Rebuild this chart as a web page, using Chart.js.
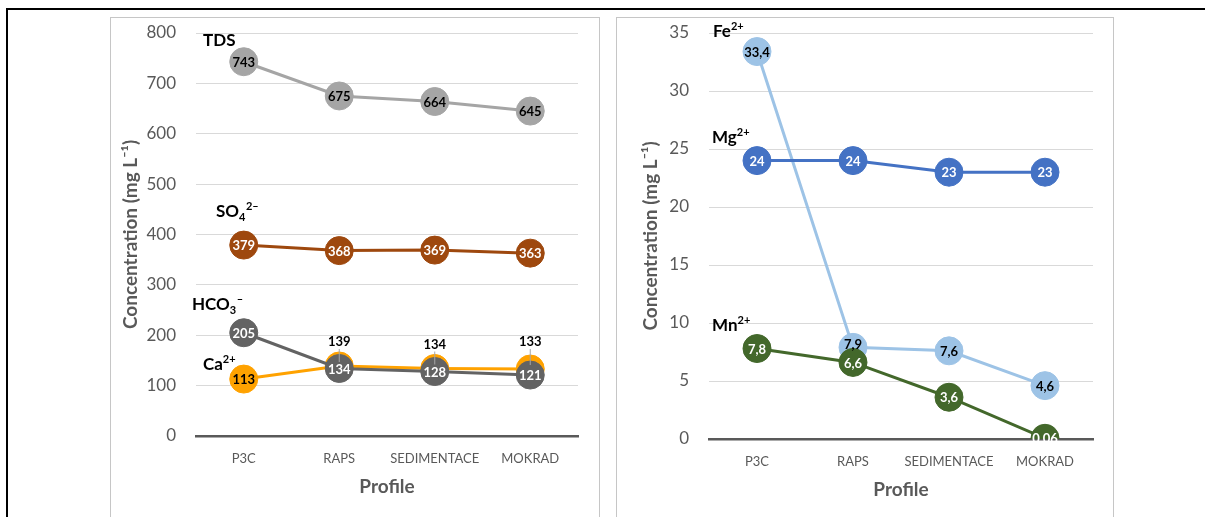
<!DOCTYPE html>
<html>
<head>
<meta charset="utf-8">
<script src="https://cdn.jsdelivr.net/npm/chart.js@4.4.1/dist/chart.umd.min.js"></script>
<style>
  body { margin:0; background:#fff; width:1205px; height:517px; overflow:hidden; position:relative; }
  .lineTop { position:absolute; left:6px; top:8px; width:1199px; height:2px; background:#000; }
  .lineLeft { position:absolute; left:6px; top:8px; width:2px; height:509px; background:#000; }
  .panel { position:absolute; top:17px; height:510px; border:1px solid #c6c6c6; border-bottom:none; }
  #p1 { left:110px; width:488px; }
  #p2 { left:616px; width:496px; }
  canvas { position:absolute; left:0; top:0; }
</style>
</head>
<body>
<div class="lineTop"></div>
<div class="lineLeft"></div>
<div class="panel" id="p1"><canvas id="levy" width="488" height="499"></canvas></div>
<div class="panel" id="p2"><canvas id="pravy" width="496" height="499"></canvas></div>
<script>
// profily (kategorie)
const profily = ['P3C', 'RAPS', 'SEDIMENTACE', 'MOKRAD'];

// levy graf - hlavni ionty (mg/L)
const tds = [743, 675, 664, 645];
const so4 = [379, 368, 369, 363];
const hco3 = [205, 134, 128, 121];
const ca = [113, 139, 134, 133];

// pravy graf - kovy (mg/L)
const fe = [33.4, 7.9, 7.6, 4.6];
const mg = [24, 24, 23, 23];
const mn = [7.8, 6.6, 3.6, 0.06];

const ticksLevy = { min: 0, max: 800, step: 100 };
const ticksPravy = { min: 0, max: 35, step: 5 };

const FONT = 'Lato, "Open Sans", sans-serif';
Chart.defaults.font.family = FONT;

// popisky hodnot a nazvy serii
const popisky = {
    id: 'popisky',
    afterDatasetsDraw(chart) {
        const ctx = chart.ctx;
        const area = chart.chartArea;
        ctx.save();
        chart.data.datasets.forEach((ds, i) => {
            const meta = chart.getDatasetMeta(i);
            meta.data.forEach((pt, j) => {
                const dy = ds.posunPopisku ? ds.posunPopisku[j] : 0;
                const y = pt.y + dy;
                if (dy < -15) {
                    ctx.strokeStyle = '#a6a6a6';
                    ctx.lineWidth = 1;
                    ctx.beginPath();
                    ctx.moveTo(pt.x, y + 8);
                    ctx.lineTo(pt.x, pt.y - 4);
                    ctx.stroke();
                }
                ctx.font = 'bold 13px ' + FONT;
                ctx.textAlign = 'center';
                ctx.textBaseline = 'middle';
                ctx.fillStyle = ds.barvaPopisku;
                ctx.fillText(String(ds.data[j]).replace('.', ','), pt.x, y + 1);
            });

            // nazev serie (s indexy)
            let x = area.left + ds.nazevPoz[0];
            const base = area.top + ds.nazevPoz[1];
            ctx.textAlign = 'left';
            ctx.textBaseline = 'alphabetic';
            ctx.fillStyle = '#000';
            ds.nazev.forEach(([t, typ]) => {
                let yy = base;
                if (typ === 'sup') { ctx.font = 'bold 11px ' + FONT; yy = base - 7; }
                else if (typ === 'sub') { ctx.font = 'bold 11px ' + FONT; yy = base + 4; }
                else ctx.font = 'bold 17px ' + FONT;
                ctx.fillText(t, x, yy);
                x += ctx.measureText(t).width + (typ ? 0.5 : 0);
            });
        });
        ctx.restore();
    }
};

function serie(data, barva, barvaPopisku, nazev, nazevPoz, posunPopisku) {
    return {
        data: data,
        borderColor: barva,
        backgroundColor: barva,
        pointBackgroundColor: barva,
        pointBorderColor: barva,
        borderWidth: 3,
        pointRadius: 14,
        pointBorderWidth: 1,
        tension: 0,
        barvaPopisku: barvaPopisku,
        nazev: nazev,
        nazevPoz: nazevPoz,
        posunPopisku: posunPopisku
    };
}

function moznosti(rozsah, sirkaY, vyskaX, titulY, titulX, pravyOkraj) {
    return {
        responsive: false,
        animation: false,
        layout: { padding: { top: 12, right: pravyOkraj, left: 0, bottom: 0 } },
        plugins: { legend: { display: false }, tooltip: { enabled: false } },
        scales: {
            x: {
                offset: true,
                grid: { display: false, drawTicks: false, offset: true },
                border: { display: true, color: '#595959', width: 2.5 },
                ticks: { color: '#595959', font: { size: 13 }, padding: 15, maxRotation: 0, autoSkip: false },
                title: { display: true, text: 'Profile', color: '#595959', font: { size: 19, weight: 'bold' }, padding: { top: 0, bottom: titulX } },
                afterFit: (s) => { s.height = vyskaX; }
            },
            y: {
                min: rozsah.min,
                max: rozsah.max,
                grid: { color: '#d9d9d9', drawTicks: true, tickLength: 20, tickColor: 'rgba(0,0,0,0)', lineWidth: 1 },
                border: { display: false },
                ticks: { stepSize: rozsah.step, color: '#595959', font: { size: 17 }, padding: 0 },
                title: { display: true, text: 'Concentration (mg L⁻¹)', color: '#595959', font: { size: 19, weight: 'bold' }, padding: { top: titulY, bottom: 0 } },
                afterFit: (s) => { s.width = sirkaY; }
            }
        }
    };
}

new Chart(document.getElementById('levy'), {
    type: 'line',
    data: {
        labels: profily,
        datasets: [
            serie(tds, '#a5a5a5', '#000', [['TDS']], [7, 13]),
            serie(so4, '#9e480e', '#fff', [['SO'], ['4', 'sub'], ['2–', 'sup']], [20, 184]),
            serie(hco3, '#636363', '#fff', [['HCO'], ['3', 'sub'], ['–', 'sup']], [-4, 277]),
            serie(ca, '#ffa200', '#000', [['Ca'], ['2+', 'sup']], [7, 337], [0, -25, -25, -28])
        ]
    },
    options: moznosti(ticksLevy, 85, 81, 8, 19, 21),
    plugins: [popisky]
});

new Chart(document.getElementById('pravy'), {
    type: 'line',
    data: {
        labels: profily,
        datasets: [
            serie(mg, '#4472c4', '#fff', [['Mg'], ['2+', 'sup']], [3, 110]),
            serie(mn, '#43682b', '#fff', [['Mn'], ['2+', 'sup']], [3, 298]),
            serie(fe, '#9dc3e6', '#000', [['Fe'], ['2+', 'sup']], [4, 4], [0, -4, 0, 0])
        ]
    },
    options: moznosti(ticksPravy, 92, 78, 22, 16, 20),
    plugins: [popisky]
});
</script>
</body>
</html>
